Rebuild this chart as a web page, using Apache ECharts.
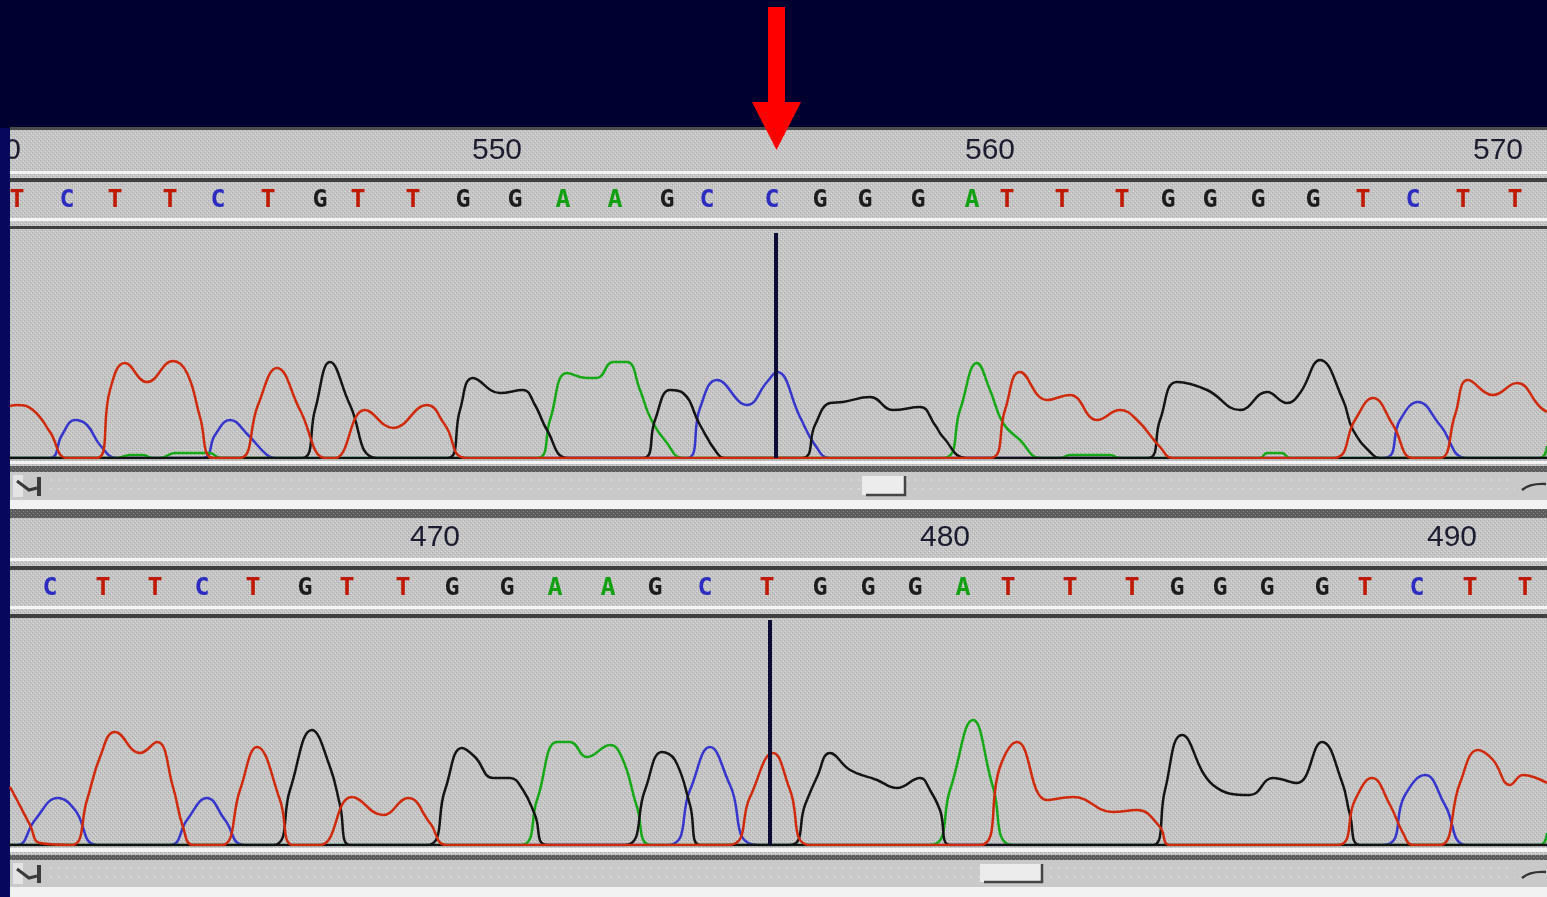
<!DOCTYPE html>
<html>
<head>
<meta charset="utf-8">
<script src="https://cdn.jsdelivr.net/npm/echarts@6/dist/echarts.min.js"></script>
<style>
  html, body { margin: 0; padding: 0; background: #000030; overflow: hidden; }
  #chart { width: 1547px; height: 897px; }
</style>
</head>
<body>
<div id="chart"></div>
<script>
// ===== Sequence data (x = scan position within each view) =====

// Upper view (sample read)
const topRulerLabels = ['540', '550', '560', '570'];
const topRulerPos = [-14, 487, 980, 1488];
const topBases = ['T','C','T','T','C','T','G','T','T','G','G','A','A','G','C','C','G','G','G','A','T','T','T','G','G','G','G','T','C','T','T'];
const topBasePos = [7, 57, 105, 160, 208, 258, 310, 348, 403, 453, 505, 553, 605, 657, 697, 762, 810, 855, 908, 962, 997, 1052, 1112, 1158, 1200, 1248, 1303, 1353, 1403, 1453, 1505];
const topCursor = 766;

const topG = [[0,0],[292,0],[305,48],[320,96],[340,53],[367,0],[438,0],[450,48],[463,80],[490,65],[513,68],[525,53],[537,28],[558,0],[633,0],[645,38],[660,68],[673,65],[690,33],[707,5],[715,0],[792,0],[805,33],[820,55],[833,56],[860,61],[883,48],[910,51],[925,33],[933,21],[957,0],[1138,0],[1150,38],[1167,76],[1197,68],[1230,48],[1257,66],[1277,55],[1290,65],[1310,98],[1333,58],[1343,28],[1363,3],[1370,0],[1537,0]];
const topA = [[0,0],[107,0],[120,3],[133,3],[143,0],[150,0],[165,5],[200,5],[210,0],[527,0],[540,38],[557,85],[577,80],[587,80],[603,96],[617,96],[630,68],[640,41],[657,15],[673,0],[933,0],[950,48],[967,95],[980,68],[993,35],[1010,18],[1030,0],[1050,0],[1060,3],[1100,3],[1110,0],[1250,0],[1257,5],[1272,5],[1280,0],[1530,0],[1537,12]];
const topC = [[0,0],[40,0],[52,23],[65,38],[77,33],[90,13],[107,0],[193,0],[205,23],[220,38],[238,23],[257,3],[265,0],[677,0],[690,50],[707,78],[737,53],[757,76],[767,86],[790,41],[805,13],[820,0],[1373,0],[1390,38],[1408,56],[1430,33],[1457,0],[1537,0]];
const topT = [[0,52],[7,53],[23,48],[40,26],[57,0],[87,0],[100,68],[115,95],[137,76],[163,97],[177,85],[190,41],[203,0],[230,0],[248,53],[267,90],[290,48],[315,0],[325,0],[355,48],[383,30],[417,53],[435,33],[457,0],[980,0],[995,48],[1010,86],[1037,58],[1060,63],[1087,38],[1110,48],[1127,38],[1150,11],[1163,0],[1323,0],[1345,38],[1363,60],[1383,33],[1403,0],[1430,0],[1445,43],[1458,78],[1483,63],[1507,75],[1530,51],[1537,46]];

// Lower view (reference read)
const botRulerLabels = ['470', '480', '490'];
const botRulerPos = [425, 935, 1442];
const botBases = ['C','T','T','C','T','G','T','T','G','G','A','A','G','C','T','G','G','G','A','T','T','T','G','G','G','G','T','C','T','T'];
const botBasePos = [40, 93, 145, 192, 243, 295, 337, 393, 442, 497, 545, 598, 645, 695, 757, 810, 858, 905, 953, 998, 1060, 1122, 1167, 1210, 1257, 1312, 1355, 1407, 1460, 1515];
const botCursor = 760;

const botG = [[0,0],[263,0],[280,55],[302,115],[320,78],[330,40],[340,0],[417,0],[435,55],[452,97],[465,88],[483,67],[500,67],[513,55],[525,30],[537,0],[615,0],[635,55],[652,93],[665,85],[680,40],[690,0],[780,0],[795,40],[807,68],[820,92],[840,75],[867,65],[887,57],[910,67],[920,55],[930,35],[940,0],[1143,0],[1155,55],[1172,110],[1203,60],[1240,50],[1263,67],[1287,62],[1312,103],[1332,63],[1340,30],[1350,0],[1537,0]];
const botA = [[0,0],[510,0],[527,45],[547,103],[560,103],[577,88],[600,100],[613,85],[627,38],[642,0],[920,0],[940,55],[963,125],[983,58],[1003,0],[1530,0],[1537,12]];
const botC = [[0,0],[8,0],[25,25],[48,47],[65,35],[87,0],[160,0],[177,25],[197,47],[215,25],[235,0],[657,0],[680,55],[700,98],[720,60],[748,0],[1373,0],[1395,50],[1415,70],[1435,40],[1457,0],[1537,0]];
const botT = [[0,58],[7,45],[20,20],[30,2],[62,0],[77,45],[90,88],[105,113],[130,92],[147,103],[163,58],[173,18],[183,0],[212,0],[230,55],[247,98],[270,45],[283,0],[310,0],[342,48],[373,30],[398,47],[420,22],[437,0],[718,0],[740,48],[763,92],[780,55],[800,0],[970,0],[990,78],[1007,103],[1037,45],[1063,48],[1103,33],[1127,35],[1150,18],[1160,0],[1327,0],[1345,45],[1362,67],[1380,40],[1393,12],[1403,0],[1430,0],[1450,62],[1468,95],[1483,85],[1500,60],[1513,70],[1537,62]];

// ===== Styling =====
const traceColors = { A: '#16a816', C: '#3636cc', G: '#141414', T: '#cf2a0c' };
const letterColors = { A: '#12a012', C: '#2c2cc0', G: '#1c1c1c', T: '#c01a04' };
// drawing order inside a trace view (last on top)
const traceZ = { C: 8, A: 9, G: 10, T: 12 };
const SCAN_MAX = 1537;
const TRACE_MAX = 228;

function makeTexture() {
  const c = document.createElement('canvas');
  c.width = 4; c.height = 4;
  const g = c.getContext('2d');
  g.fillStyle = '#c4c4c4'; g.fillRect(0, 0, 4, 4);
  g.fillStyle = '#acacac'; g.fillRect(0, 0, 1, 1); g.fillRect(2, 2, 1, 1);
  g.fillStyle = '#dcdcdc'; g.fillRect(1, 3, 1, 1); g.fillRect(3, 1, 1, 1);
  return c;
}
function makeDarkTexture() {
  const c = document.createElement('canvas');
  c.width = 4; c.height = 4;
  const g = c.getContext('2d');
  g.fillStyle = '#5c5c5c'; g.fillRect(0, 0, 4, 4);
  g.fillStyle = '#8a8a8a'; g.fillRect(1, 1, 1, 1); g.fillRect(3, 3, 1, 1);
  return c;
}
const tex = { image: makeTexture(), repeat: 'repeat' };
const darkTex = { image: makeDarkTexture(), repeat: 'repeat' };

const chart = echarts.init(document.getElementById('chart'), null, { renderer: 'canvas' });

// grid layout: ruler, base row, trace for each view
const grids = [
  { left: 10, top: 131, width: 1537, height: 40 },
  { left: 10, top: 182, width: 1537, height: 36 },
  { left: 10, top: 230, width: 1537, height: 228 },
  { left: 10, top: 518, width: 1537, height: 40 },
  { left: 10, top: 570, width: 1537, height: 36 },
  { left: 10, top: 617, width: 1537, height: 228 }
].map(g => Object.assign({ show: false, containLabel: false }, g));

const isTrace = i => i === 2 || i === 5;
const xAxes = grids.map((g, i) => ({
  type: 'value', gridIndex: i, min: 0, max: SCAN_MAX, z: 11,
  axisLine: { show: isTrace(i), onZero: false, lineStyle: { color: '#111', width: 2 } },
  axisTick: { show: false }, axisLabel: { show: false }, splitLine: { show: false }
}));
const yAxes = grids.map((g, i) => ({
  type: 'value', gridIndex: i, min: 0, max: isTrace(i) ? TRACE_MAX : 1, show: false
}));

function rulerSeries(gi, labels, pos) {
  return {
    type: 'custom', xAxisIndex: gi, yAxisIndex: gi, clip: true, z: 20, silent: true,
    data: pos.map(p => [p, 0.5]),
    renderItem: (params, api) => {
      const pt = api.coord([api.value(0), api.value(1)]);
      return { type: 'text', x: pt[0], y: pt[1],
        style: { text: labels[params.dataIndex], fill: '#1c1c30',
          font: '30px "Liberation Sans", Arial, sans-serif', align: 'center', verticalAlign: 'middle' } };
    }
  };
}
function baseSeries(gi, bases, pos) {
  return {
    type: 'custom', xAxisIndex: gi, yAxisIndex: gi, clip: true, z: 20, silent: true,
    data: pos.map(p => [p, 0.5]),
    renderItem: (params, api) => {
      const pt = api.coord([api.value(0), api.value(1)]);
      const b = bases[params.dataIndex];
      return { type: 'text', x: pt[0], y: pt[1],
        style: { text: b, fill: letterColors[b],
          font: 'bold 25px "DejaVu Sans Mono", monospace', align: 'center', verticalAlign: 'middle' } };
    }
  };
}
function traceSeries(gi, name, data) {
  return {
    type: 'line', name, xAxisIndex: gi, yAxisIndex: gi, data, z: traceZ[name],
    showSymbol: false, smooth: 0.45, silent: true,
    lineStyle: { color: traceColors[name], width: 2.5 }
  };
}
function cursorSeries(gi, pos) {
  return {
    type: 'line', xAxisIndex: gi, yAxisIndex: gi, z: 14, silent: true, showSymbol: false,
    data: [[pos, 0], [pos, 225]],
    lineStyle: { color: '#0c0c34', width: 4 }
  };
}

// scroll bar below a trace view
function scrollbar(y, h, thumbX, thumbW) {
  return [
    { type: 'rect', z: 1, shape: { x: 10, y, width: 1537, height: h }, style: { fill: '#c9c9c9' } },
    { type: 'line', z: 2, shape: { x1: 50, y1: y + 8, x2: 1515, y2: y + 8 }, style: { stroke: '#e6e6e6', lineWidth: 1, lineDash: [2, 6] } },
    { type: 'line', z: 2, shape: { x1: 50, y1: y + 17, x2: 1515, y2: y + 17 }, style: { stroke: '#e6e6e6', lineWidth: 1, lineDash: [2, 6] } },
    { type: 'rect', z: 2, shape: { x: 13, y: y + 3, width: 10, height: h - 6 }, style: { fill: '#e4e4e4' } },
    { type: 'polyline', z: 3, shape: { points: [[17, y + 9], [29, y + 18], [37, y + 16]] }, style: { stroke: '#3a3a3a', lineWidth: 3, fill: null } },
    { type: 'rect', z: 3, shape: { x: 37, y: y + 5, width: 4, height: h - 9 }, style: { fill: '#3a3a3a' } },
    { type: 'rect', z: 3, shape: { x: thumbX, y: y + 4, width: thumbW, height: h - 9 }, style: { fill: '#ececec' } },
    { type: 'polyline', z: 4, shape: { points: [[thumbX + 4, y + h - 5], [thumbX + thumbW, y + h - 5], [thumbX + thumbW, y + 4]] }, style: { stroke: '#444', lineWidth: 2.5, fill: null } },
    { type: 'bezierCurve', z: 3, shape: { x1: 1522, y1: y + 18, x2: 1546, y2: y + 12, cpx1: 1530, cpy1: y + 11 }, style: { stroke: '#333', lineWidth: 2.5, fill: null } }
  ];
}

const hBand = (y, h, fill) => ({ type: 'rect', z: 1, shape: { x: 10, y, width: 1537, height: h }, style: { fill } });

const graphic = [
  { type: 'rect', z: 0, shape: { x: 0, y: 0, width: 1547, height: 897 }, style: { fill: '#000030' } },
  { type: 'rect', z: 0, shape: { x: 0, y: 128, width: 10, height: 769 }, style: { fill: '#07075e' } },
  // upper view
  hBand(128, 382, tex),
  hBand(127, 3, '#4c4c4c'),
  hBand(171, 3, '#f4f4f4'),
  hBand(178, 4, '#404040'),
  hBand(218, 3, '#f4f4f4'),
  hBand(226, 3, '#404040'),
  hBand(461, 3, '#f4f4f4'),
  hBand(466, 6, darkTex),
  ...scrollbar(472, 28, 862, 43),
  hBand(500, 9, '#f2f2f2'),
  hBand(509, 9, darkTex),
  // lower view
  hBand(518, 379, tex),
  hBand(558, 3, '#f4f4f4'),
  hBand(566, 4, '#404040'),
  hBand(606, 3, '#f4f4f4'),
  hBand(614, 4, '#404040'),
  hBand(848, 4, '#f4f4f4'),
  hBand(855, 5, darkTex),
  ...scrollbar(860, 27, 980, 62),
  hBand(887, 10, '#f2f2f2')
];

const series = [
  rulerSeries(0, topRulerLabels, topRulerPos),
  baseSeries(1, topBases, topBasePos),
  traceSeries(2, 'C', topC), traceSeries(2, 'A', topA), traceSeries(2, 'G', topG), traceSeries(2, 'T', topT),
  cursorSeries(2, topCursor),
  rulerSeries(3, botRulerLabels, botRulerPos),
  baseSeries(4, botBases, botBasePos),
  traceSeries(5, 'C', botC), traceSeries(5, 'A', botA), traceSeries(5, 'G', botG), traceSeries(5, 'T', botT),
  cursorSeries(5, botCursor),
  // red arrow pointing at the cursor position of the upper view
  {
    type: 'custom', xAxisIndex: 2, yAxisIndex: 2, clip: false, z: 50, silent: true,
    data: [[topCursor, TRACE_MAX]],
    renderItem: (params, api) => {
      const x = api.coord([api.value(0), api.value(1)])[0];
      return { type: 'group', children: [
        { type: 'rect', shape: { x: x - 8, y: 7, width: 17, height: 97 }, style: { fill: '#ff0000' } },
        { type: 'polygon', shape: { points: [[x - 24, 102], [x + 25, 102], [x + 0.5, 150]] }, style: { fill: '#ff0000' } }
      ] };
    }
  }
];

chart.setOption({
  animation: false,
  backgroundColor: '#000030',
  graphic,
  grid: grids,
  xAxis: xAxes,
  yAxis: yAxes,
  series
});
</script>
</body>
</html>
